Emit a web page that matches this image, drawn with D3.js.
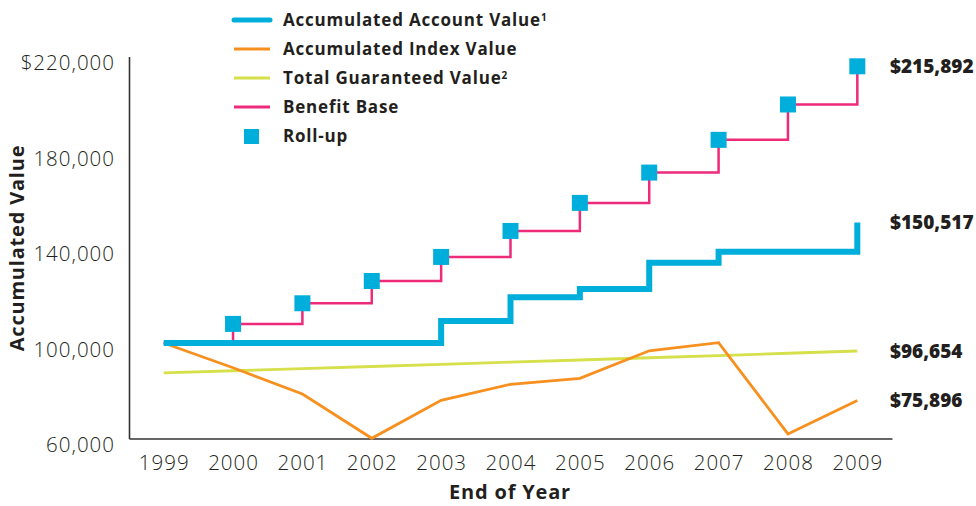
<!DOCTYPE html>
<html>
<head>
<meta charset="utf-8">
<script src="https://cdn.jsdelivr.net/npm/d3@7"></script>
<style>
  body { margin: 0; background: #fff; }
  svg text { font-family: "Open Sans", Lato, sans-serif; fill: #231f20; }
</style>
</head>
<body>
<div id="app"></div>
<script>
// chart values
var years = [1999, 2000, 2001, 2002, 2003, 2004, 2005, 2006, 2007, 2008, 2009];
var accountValue = [100000, 100000, 100000, 100000, 109200, 119150, 122600, 133600, 138250, 138250, 150517];
var indexValue = [100000, 89650, 78650, 60100, 76000, 82700, 85200, 96750, 100150, 61900, 75896];
var guaranteedValue = [87500, 88375, 89259, 90151, 91053, 91963, 92883, 93812, 94750, 95697, 96654];
var benefitBase = [100000, 108000, 116640, 125971, 136049, 146933, 158687, 171382, 185093, 199900, 215892];
var rollupYears = [2000, 2001, 2002, 2003, 2004, 2005, 2006, 2007, 2008, 2009];
var yTicks = [60000, 100000, 140000, 180000, 220000];
var legendNames = ['Accumulated Account Value', 'Accumulated Index Value', 'Total Guaranteed Value', 'Benefit Base', 'Roll-up'];
var legendSup = ['1', '', '2', '', ''];

var blue = '#00aedb', orange = '#f7901e', green = '#d5e04b', pink = '#ee2a7b';

var width = 976, height = 506;

var svg = d3.select('#app')
    .append('svg')
    .attr('width', width)
    .attr('height', height);

var x = d3.scalePoint()
    .domain(years)
    .range([129, 892])
    .padding(0.5);

var y = d3.scaleLinear()
    .domain([60000, 220000])
    .range([438.5, 56.5]);

var fmt = d3.format(',');

// axes
var xAxis = svg.append('g')
    .attr('transform', 'translate(0,' + y(60000) + ')')
    .call(d3.axisBottom(x).tickSize(0).tickPadding(17));
var yAxis = svg.append('g')
    .attr('transform', 'translate(' + 129 + ',0)')
    .call(d3.axisLeft(y).tickValues(yTicks).tickSize(0).tickPadding(14)
        .tickFormat(function (d) { return d === 220000 ? '$' + fmt(d) : fmt(d) }));

svg.selectAll('.domain')
    .attr('stroke', '#333')
    .attr('stroke-width', 1.6);
svg.selectAll('.tick text')
    .style('font-size', '20.5px')
    .style('font-weight', 300)
    .style('letter-spacing', '1px')
    .style('fill', '#231f20');
yAxis.selectAll('.tick text').attr('dy', '0.64em');

// axis titles
svg.append('text')
    .attr('x', 510)
    .attr('y', 499)
    .attr('text-anchor', 'middle')
    .style('font-size', '20px')
    .style('font-weight', 700)
    .style('letter-spacing', '0.8px')
    .text('End of Year');
svg.append('text')
    .attr('transform', 'translate(24,248) rotate(-90)')
    .attr('text-anchor', 'middle')
    .style('font-size', '20px')
    .style('font-weight', 700)
    .style('letter-spacing', '0.8px')
    .text('Accumulated Value');

// lines
function series(vals) {
    return years.map(function (yr, i) { return [x(yr), y(vals[i])] });
}
var straight = d3.line();
var step = d3.line().curve(d3.curveStepAfter);

svg.append('path')
    .attr('d', straight(series(guaranteedValue)))
    .attr('stroke', green)
    .attr('stroke-width', 2.8)
    .attr('fill', 'none');
svg.append('path')
    .attr('d', straight(series(indexValue)))
    .attr('stroke', orange)
    .attr('stroke-width', 2.8)
    .attr('fill', 'none');
svg.append('path')
    .attr('d', step(series(benefitBase)))
    .attr('stroke', pink)
    .attr('stroke-width', 2.5)
    .attr('fill', 'none');
svg.append('path')
    .attr('d', step(series(accountValue)))
    .attr('stroke', blue)
    .attr('stroke-width', 6)
    .attr('fill', 'none');

// roll-up squares
svg.selectAll('rect.rollup')
    .data(rollupYears)
    .enter()
    .append('rect')
    .attr('class', 'rollup')
    .attr('x', function (d) { return x(d) - 8 })
    .attr('y', function (d) { return y(benefitBase[years.indexOf(d)]) - 8 })
    .attr('width', 16)
    .attr('height', 16)
    .attr('fill', blue);

// end labels
var ends = [benefitBase, accountValue, guaranteedValue, indexValue];
svg.selectAll('text.endlabel')
    .data(ends)
    .enter()
    .append('text')
    .attr('class', 'endlabel')
    .attr('x', 890)
    .attr('y', function (d) { return y(d[d.length - 1]) })
    .attr('dy', '0.36em')
    .style('font-size', '19px')
    .style('font-weight', 800)
    .text(function (d) { return '$' + fmt(d[d.length - 1]) });

// legend
var legend = svg.append('g');
var rows = legend.selectAll('g')
    .data(legendNames)
    .enter()
    .append('g')
    .attr('transform', function (d, i) { return 'translate(0,' + (20 + i * 29) + ')' });

var legendColors = [blue, orange, green, pink];
rows.filter(function (d, i) { return i < 4 })
    .append('line')
    .attr('x1', 234)
    .attr('x2', 270)
    .attr('stroke', function (d, i) { return legendColors[i] })
    .attr('stroke-width', function (d, i) { return i === 0 ? 5 : 2.8 })
    .attr('stroke-linecap', function (d, i) { return i === 0 ? 'round' : 'butt' });
rows.filter(function (d, i) { return i === 4 })
    .append('rect')
    .attr('x', 244)
    .attr('y', -7)
    .attr('width', 15)
    .attr('height', 15)
    .attr('fill', blue);

var labels = rows.append('text')
    .attr('x', 283)
    .attr('dy', '0.36em')
    .style('font-size', '17px')
    .style('font-weight', 700)
    .style('letter-spacing', '0.8px');
labels.append('tspan').text(function (d) { return d });
labels.append('tspan')
    .attr('dy', '-0.5em')
    .style('font-size', '10px')
    .text(function (d, i) { return legendSup[i] });
</script>
</body>
</html>
